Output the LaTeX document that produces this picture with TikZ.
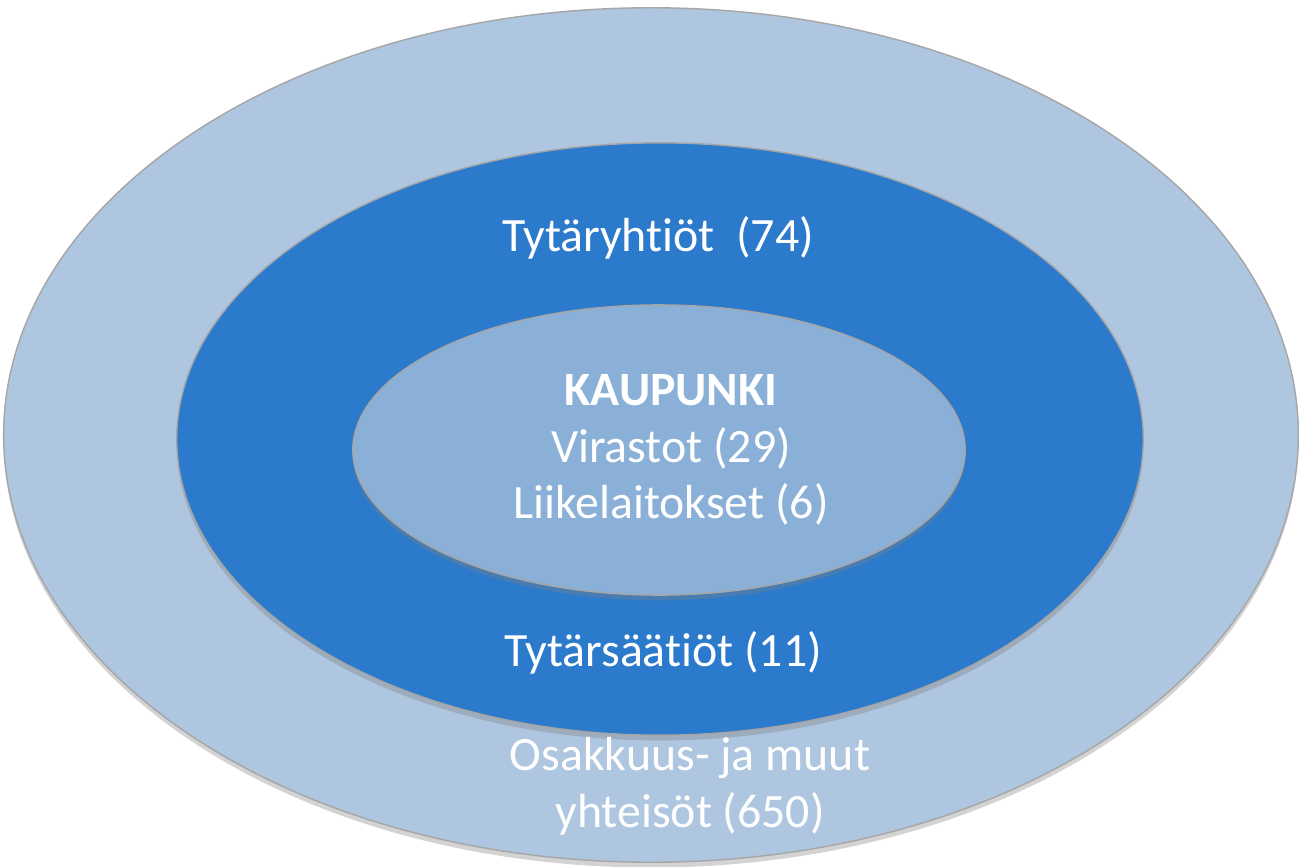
\documentclass[tikz,border=0pt]{standalone}
\usepackage{fontspec}
\setmainfont[RawFeature={-liga;-clig;-calt;-dlig}]{Carlito}
\usetikzlibrary{shapes.geometric,shadows}

\definecolor{ringpale}{HTML}{AEC6DF}
\definecolor{ringdeep}{HTML}{2C7ACB}
\definecolor{ringcore}{HTML}{8AB0D8}

\begin{document}
\begin{tikzpicture}[x=0.01cm, y=-0.01cm]
\tikzset{ ring/.style={ellipse, inner sep=0pt, draw=black!35, line width=0.4pt,
                       drop shadow={opacity=0.35, shadow xshift=0pt, shadow yshift=-1.5pt}},
          lbl/.style={text=white, font=\fontsize{13.6}{16.1}\selectfont, align=center, inner sep=0pt} }

\useasboundingbox (0,0) rectangle (1299,866);

%\draw [lightgray, dashed](0,0) grid [step=100] (1299,866);

\node [ring, fill=ringpale, minimum width=12.94cm, minimum height=8.54cm] (outer) at (651,435) {};
\node [ring, fill=ringdeep, minimum width=9.66cm,  minimum height=5.92cm] (middle) at (660,439) {};
\node [ring, fill=ringcore, minimum width=6.12cm,  minimum height=2.90cm] (core) at (659,450) {};

\node [lbl] (yhtiot) at (658,238) {Tytäryhtiöt~~(74)};
\node [lbl] (kaupunki) at (671,450) {\textbf{KAUPUNKI}\\Virastot (29)\\Liikelaitokset (6)};
\node [lbl] (saatiot) at (663,653) {Tytärsäätiöt (11)};
\node [lbl] (muut) at (690,786) {Osakkuus- ja muut\\yhteisöt (650)};

\end{tikzpicture}
\end{document}
